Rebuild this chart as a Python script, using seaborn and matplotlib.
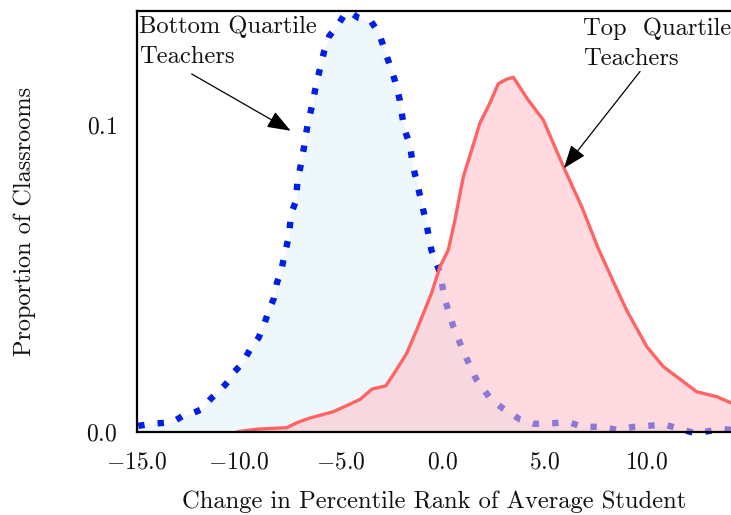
import matplotlib
matplotlib.use("Agg")
import matplotlib.pyplot as plt
import seaborn as sns
import numpy as np

# ---- data ----
bottom_x = [-14.94, -14.36, -13.66, -13.19, -12.76, -12.21, -11.80, -11.58, -11.34, -10.98,
            -10.54, -10.23, -9.85, -9.48, -9.03, -8.76, -8.51, -8.30, -8.14, -7.93,
            -7.76, -7.55, -7.45, -7.21, -7.14, -6.96, -6.80, -6.65, -6.42, -6.26,
            -6.06, -5.83, -5.57, -5.20, -4.89, -4.59, -4.13, -3.51, -3.12, -2.73,
            -2.37, -2.11, -1.91, -1.62, -1.46, -1.26, -1.08, -0.82, -0.57, -0.12,
            0.06, 0.50, 0.99, 1.62, 2.33, 2.91, 3.77, 4.41, 4.99, 5.69,
            6.26, 6.83, 7.75, 8.54, 9.36, 10.06, 10.83, 11.62, 12.37, 13.66, 14.15]
bottom_y = [0.0020, 0.0026, 0.0030, 0.0035, 0.0052, 0.0063, 0.0075, 0.0093, 0.0111, 0.0132,
            0.0164, 0.0196, 0.0222, 0.0266, 0.0308, 0.0352, 0.0401, 0.0433, 0.0486, 0.0524,
            0.0580, 0.0638, 0.0710, 0.0752, 0.0812, 0.0873, 0.0932, 0.0996, 0.1062, 0.1116,
            0.1175, 0.1239, 0.1290, 0.1320, 0.1353, 0.1369, 0.1348, 0.1336, 0.1296, 0.1219,
            0.1147, 0.1079, 0.0990, 0.0935, 0.0863, 0.0808, 0.0756, 0.0681, 0.0593, 0.0515,
            0.0439, 0.0345, 0.0264, 0.0173, 0.0108, 0.0078, 0.0041, 0.0027, 0.0027, 0.0030,
            0.0030, 0.0017, 0.0017, 0.0007, 0.0017, 0.0020, 0.0025, 0.0010, -0.0004, 0.0010, 0.0007]

top_x = [-10.06, -9.13, -8.32, -7.66, -7.17, -6.55, -5.38, -4.72, -4.07, -3.47,
         -2.81, -2.44, -1.78, -1.29, -0.56, -0.15, 0.26, 0.59, 1.00, 1.41,
         1.81, 2.30, 2.71, 3.12, 3.45, 4.18, 4.92, 5.41, 5.98, 6.80,
         7.61, 8.35, 9.00, 9.99, 10.80, 11.46, 12.44, 13.42, 14.12]
top_y = [0.0001, 0.0009, 0.0012, 0.0014, 0.0030, 0.0045, 0.0066, 0.0086, 0.0106, 0.0140,
         0.0150, 0.0186, 0.0256, 0.0332, 0.0452, 0.0538, 0.0593, 0.0691, 0.0832, 0.0919,
         0.1006, 0.1071, 0.1134, 0.1149, 0.1155, 0.1081, 0.1016, 0.0940, 0.0853, 0.0734,
         0.0598, 0.0490, 0.0397, 0.0278, 0.0213, 0.0180, 0.0131, 0.0115, 0.0095]

xticks = [-15, -10, -5, 0, 5, 10]
xtick_labels = [r"$-15.0$", r"$-10.0$", r"$-5.0$", r"$0.0$", r"$5.0$", r"$10.0$"]
yticks = [0.0, 0.1]
ytick_labels = [r"$0.0$", r"$0.1$"]

sns.set_style("white")
plt.rcParams["font.family"] = ["cmr10", "DejaVu Serif"]
plt.rcParams["mathtext.fontset"] = "cm"
plt.rcParams["axes.unicode_minus"] = False

fig = plt.figure(figsize=(7.31, 5.15), dpi=100)
ax = fig.add_axes([137 / 731, 83 / 515, 1 - 137 / 731, 421 / 515])

# fills
ax.fill_between(bottom_x, 0, bottom_y, color="lightblue", alpha=0.2, linewidth=0, zorder=1)
sns.lineplot(x=bottom_x, y=bottom_y, ax=ax, estimator=None, sort=False,
             color="#001ee6", linewidth=4.6, linestyle=(0, (1, 2.05)),
             clip_on=False, zorder=2)
ax.fill_between(top_x, 0, top_y, color="pink", alpha=0.56, linewidth=0, zorder=3)
sns.lineplot(x=top_x, y=top_y, ax=ax, estimator=None, sort=False,
             color="#ff6464", linewidth=2.4, zorder=4)

ax.set_xlim(-15, 14.12)
ax.set_ylim(0, 0.1371)
ax.set_xticks(xticks)
ax.set_xticklabels(xtick_labels)
ax.set_yticks(yticks)
ax.set_yticklabels(ytick_labels)
ax.tick_params(axis="both", direction="in", length=7, width=0.8, labelsize=17,
               colors="#333333", labelcolor="#111111")
ax.tick_params(axis="x", pad=14)
ax.tick_params(axis="y", pad=14)

for s in ["left", "bottom", "top"]:
    ax.spines[s].set_color("black")
    ax.spines[s].set_linewidth(1.6)
    ax.spines[s].set_zorder(5)
ax.spines["right"].set_visible(False)

ax.set_xlabel("Change in Percentile Rank of Average Student", fontsize=17.7,
              labelpad=12, color="#111111")
ax.set_ylabel("Proportion of Classrooms", fontsize=17.5, labelpad=36, color="#111111")

arrow = dict(arrowstyle="-|>,head_length=0.8,head_width=0.3", color="black",
             lw=0.9, mutation_scale=18, shrinkA=0, shrinkB=0)
ax.annotate("", xy=(-7.47, 0.0981), xytext=(-12.32, 0.1166), arrowprops=arrow, zorder=6)
ax.annotate("", xy=(5.93, 0.0859), xytext=(9.66, 0.1174), arrowprops=arrow, zorder=6)
ax.text(-14.88, 0.1356, "Bottom Quartile\nTeachers", fontsize=17.7, ha="left", va="top",
        linespacing=1.45, zorder=6, color="#111111")
ax.text(6.86, 0.1350, "Top  Quartile\nTeachers", fontsize=17.7, ha="left", va="top",
        linespacing=1.45, zorder=6, color="#111111")

fig.savefig("out.png", dpi=100)
